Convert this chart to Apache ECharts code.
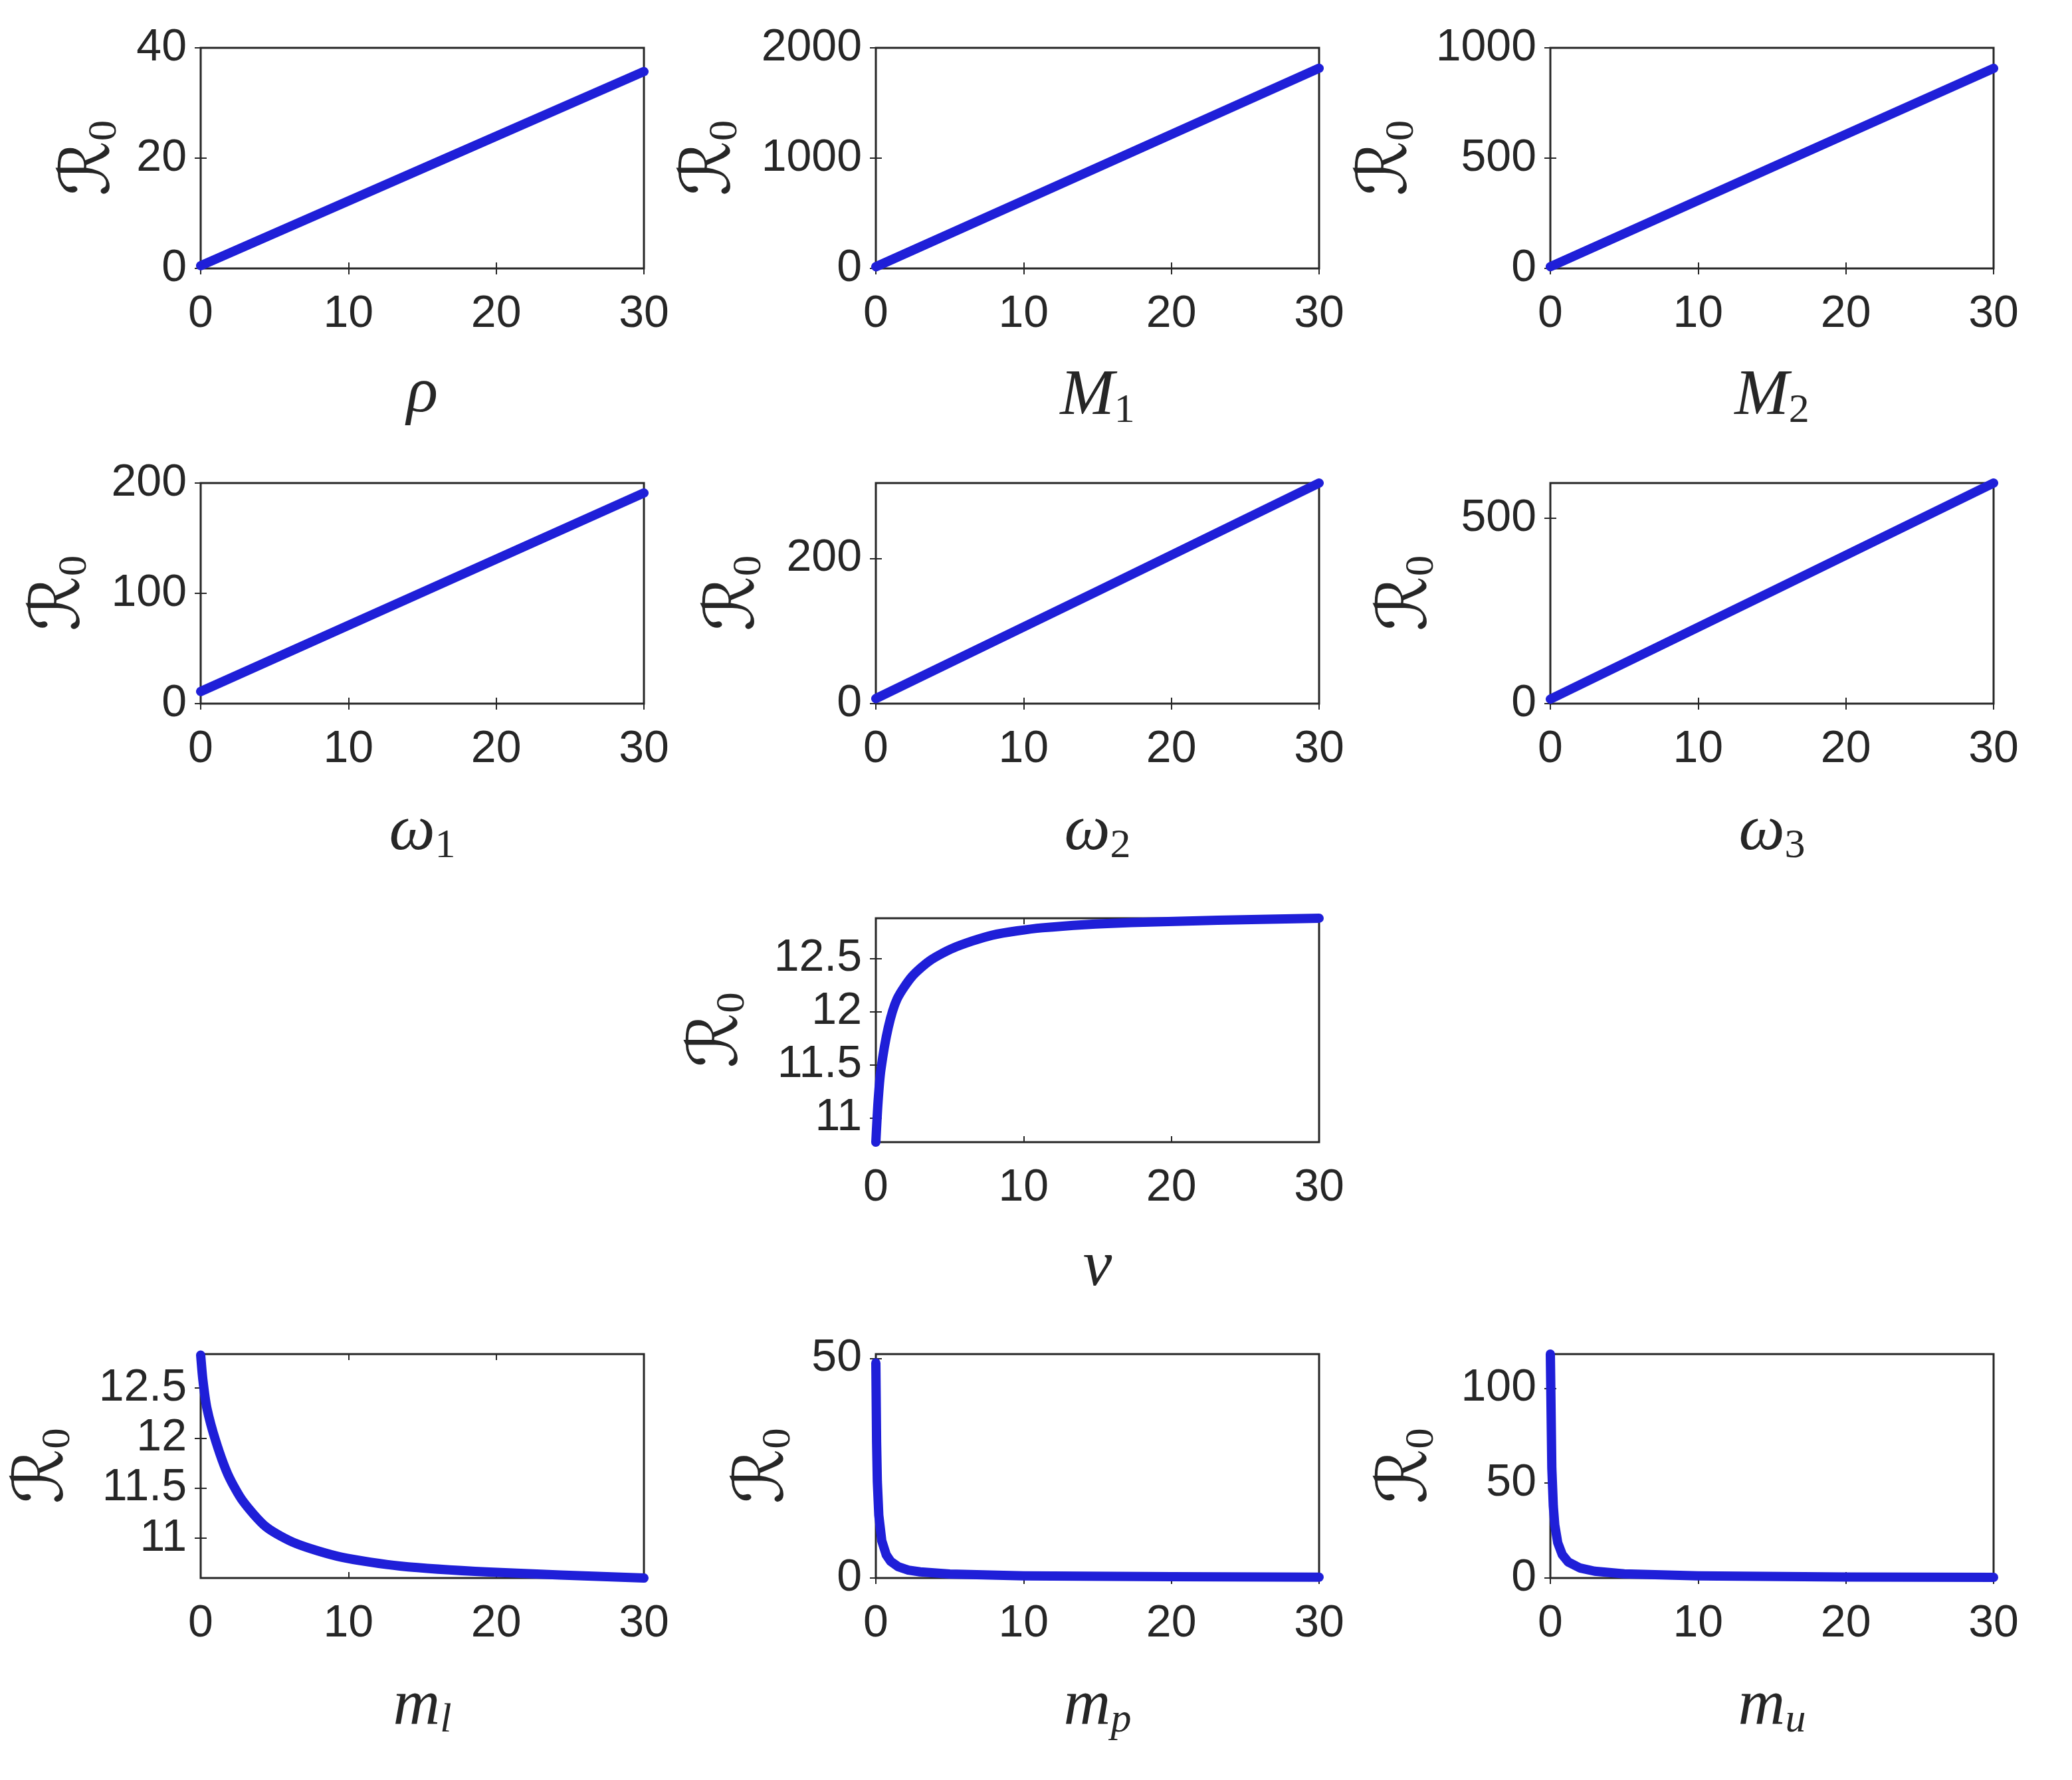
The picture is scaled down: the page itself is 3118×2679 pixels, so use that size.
<!DOCTYPE html>
<html>
<head>
<meta charset="utf-8">
<script src="https://cdn.jsdelivr.net/npm/echarts@6/dist/echarts.min.js"></script>
<style>
  html, body { margin: 0; padding: 0; background: #fff; }
  #chart { width: 3118px; height: 2679px; }
</style>
</head>
<body>
<div id="chart"></div>
<script>
// values (R0 against each parameter)
const xTicks = [0, 10, 20, 30]

const rhoX = [0, 15, 30]
const rhoR0 = [0.5, 18.1, 35.7]
const rhoTicks = [0, 20, 40]

const m1X = [0, 15, 30]
const m1R0 = [15, 915, 1815]
const m1Ticks = [0, 1000, 2000]

const m2X = [0, 15, 30]
const m2R0 = [8, 458, 907]
const m2Ticks = [0, 500, 1000]

const w1X = [0, 15, 30]
const w1R0 = [11, 101, 191]
const w1Ticks = [0, 100, 200]

const w2X = [0, 15, 30]
const w2R0 = [7, 155, 304]
const w2Ticks = [0, 200]

const w3X = [0, 15, 30]
const w3R0 = [12, 303, 595]
const w3Ticks = [0, 500]

const nuX = [0, 0.15, 0.34, 0.84, 1.44, 2.44, 3.65, 5.25, 7.86, 11.27, 17.28, 30]
const nuR0 = [10.77, 11.15, 11.45, 11.85, 12.12, 12.33, 12.48, 12.6, 12.72, 12.79, 12.84, 12.88]
const nuTicks = [11, 11.5, 12, 12.5]

const mlX = [0, 0.15, 0.42, 1.02, 1.83, 2.83, 4.44, 6.45, 9.47, 13.49, 19.52, 30]
const mlR0 = [12.83, 12.58, 12.3, 11.97, 11.64, 11.375, 11.11, 10.945, 10.81, 10.72, 10.66, 10.6]
const mlTicks = [11, 11.5, 12, 12.5]

const mpX = [0, 0.05, 0.1, 0.2, 0.4, 0.7, 1, 1.5, 2.2, 3, 5, 10, 20, 30]
const mpR0 = [49, 31, 22, 14.3, 8.5, 5.3, 3.8, 2.6, 1.8, 1.4, 0.9, 0.5, 0.3, 0.2]
const mpTicks = [0, 50]

const muX = [0, 0.1, 0.2, 0.3, 0.5, 0.8, 1.2, 2, 3, 5, 10, 20, 30]
const muR0 = [118, 58, 38, 28, 18.6, 12.4, 8.5, 5.3, 3.6, 2.2, 1.1, 0.55, 0.37]
const muTicks = [0, 50, 100]

const ink = '#262626'
const blue = '#1f1fd8'

// panel layout (pixels) and axis names
const panels = [
  { x: rhoX, y: rhoR0, ticks: rhoTicks, min: 0, max: 40, left: 302, top: 72, h: 332, name: '{i|ρ}', gapY: 113 },
  { x: m1X, y: m1R0, ticks: m1Ticks, min: 0, max: 2000, left: 1318, top: 72, h: 332, name: '{i|M}{s|1}', gapY: 195 },
  { x: m2X, y: m2R0, ticks: m2Ticks, min: 0, max: 1000, left: 2333, top: 72, h: 332, name: '{i|M}{s|2}', gapY: 192 },
  { x: w1X, y: w1R0, ticks: w1Ticks, min: 0, max: 200, left: 302, top: 727, h: 332, name: '{i|ω}{s|1}', gapY: 158 },
  { x: w2X, y: w2R0, ticks: w2Ticks, min: 0, max: 304, left: 1318, top: 727, h: 332, name: '{i|ω}{s|2}', gapY: 159 },
  { x: w3X, y: w3R0, ticks: w3Ticks, min: 0, max: 595, left: 2333, top: 727, h: 332, name: '{i|ω}{s|3}', gapY: 162 },
  { x: nuX, y: nuR0, ticks: nuTicks, min: 10.77, max: 12.88, left: 1318, top: 1382, h: 337, name: '{i|ν}', gapY: 184, smooth: true },
  { x: mlX, y: mlR0, ticks: mlTicks, min: 10.6, max: 12.84, left: 302, top: 2038, h: 337, name: '{i|m}{si|l}', gapY: 183, smooth: true },
  { x: mpX, y: mpR0, ticks: mpTicks, min: 0, max: 51, left: 1318, top: 2038, h: 337, name: '{i|m}{si|p}', gapY: 115 },
  { x: muX, y: muR0, ticks: muTicks, min: 0, max: 118, left: 2333, top: 2038, h: 337, name: '{i|m}{si|u}', gapY: 162 }
]

const tickLabel = { color: ink, fontFamily: 'Liberation Sans', fontSize: 68, formatter: (v) => String(v) }
const xNameRich = {
  i: { fontFamily: 'Liberation Serif', fontStyle: 'italic', fontSize: 98, color: ink },
  s: { fontFamily: 'Liberation Serif', fontSize: 62, color: ink, padding: [44, 0, 0, 0] },
  si: { fontFamily: 'Liberation Serif', fontStyle: 'italic', fontSize: 62, color: ink, padding: [44, 0, 0, 0] }
}
const yNameRich = {
  r: { fontFamily: 'DejaVu Sans', fontSize: 104, color: ink },
  s: { fontFamily: 'Liberation Serif', fontSize: 62, color: ink, padding: [42, 0, 0, 0] }
}
const innerTick = { show: true, inside: true, length: 9, lineStyle: { color: ink, width: 2 } }

const grid = []
const xAxis = []
const yAxis = []
const series = []

panels.forEach((p, i) => {
  grid.push({
    left: p.left, top: p.top, width: 667, height: p.h,
    show: true, borderColor: ink, borderWidth: 3, backgroundColor: '#fff'
  })
  xAxis.push({
    gridIndex: i, type: 'value', position: 'bottom', min: 0, max: 30, interval: 10,
    axisLine: { show: false }, splitLine: { show: false }, axisTick: innerTick,
    axisLabel: Object.assign({ margin: 35, customValues: xTicks }, tickLabel),
    name: p.name, nameLocation: 'middle', nameGap: 140,
    nameTextStyle: { rich: xNameRich }
  })
  xAxis.push({
    gridIndex: i, type: 'value', position: 'top', min: 0, max: 30, interval: 10,
    axisLine: { show: false }, splitLine: { show: false }, axisTick: innerTick,
    axisLabel: { show: false }
  })
  yAxis.push({
    gridIndex: i, type: 'value', position: 'left', min: p.min, max: p.max,
    axisLine: { show: false }, splitLine: { show: false },
    axisTick: Object.assign({ customValues: p.ticks }, innerTick),
    axisLabel: Object.assign({ margin: 21, customValues: p.ticks }, tickLabel),
    name: '{r|ℛ}{s|0}', nameLocation: 'middle', nameRotate: 90, nameGap: p.gapY,
    nameTextStyle: { rich: yNameRich }
  })
  yAxis.push({
    gridIndex: i, type: 'value', position: 'right', min: p.min, max: p.max,
    axisLine: { show: false }, splitLine: { show: false },
    axisTick: Object.assign({ customValues: p.ticks }, innerTick),
    axisLabel: { show: false }
  })
  series.push({
    type: 'line',
    xAxisIndex: 2 * i,
    yAxisIndex: 2 * i,
    data: p.x.map((v, k) => [v, p.y[k]]),
    symbol: 'none',
    smooth: p.smooth ? 0.25 : false,
    clip: false,
    lineStyle: { color: blue, width: 14, join: 'round', cap: 'round' }
  })
})

const chart = echarts.init(document.getElementById('chart'))
chart.setOption({
  animation: false,
  backgroundColor: '#fff',
  grid: grid,
  xAxis: xAxis,
  yAxis: yAxis,
  series: series
})
</script>
</body>
</html>
